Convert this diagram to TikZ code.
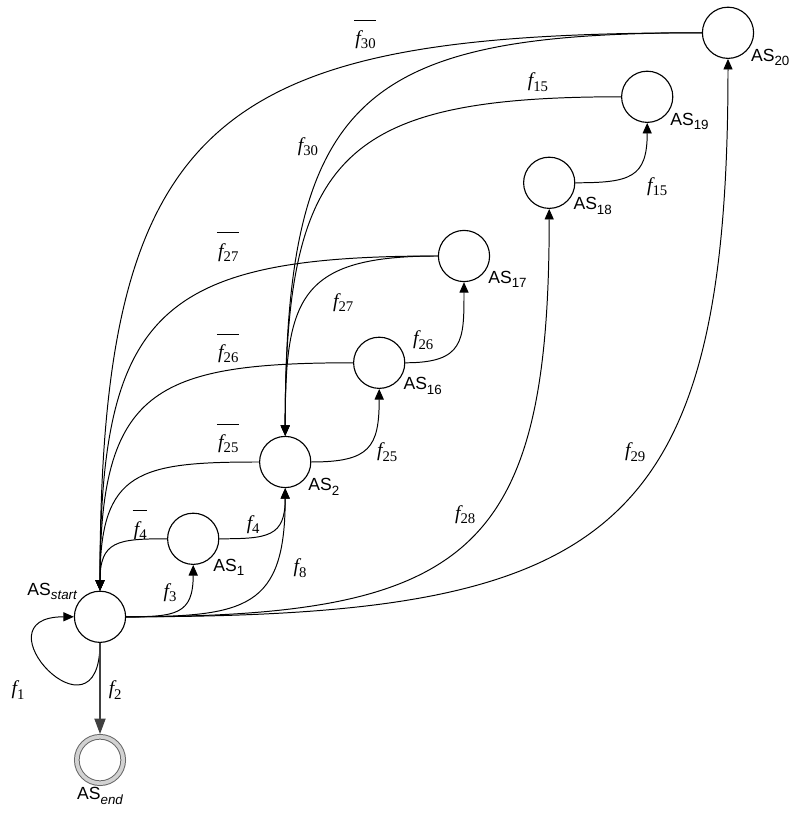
\documentclass[tikz,border=0pt]{standalone}
\usepackage{fontspec}
\setmainfont{Liberation Serif}
\setsansfont{Liberation Sans}
\usetikzlibrary{arrows.meta}

\newcommand{\fsub}[1]{{\itshape f}\raisebox{-0.5ex}{\fontsize{10.5}{11}\selectfont #1}}
\newcommand{\fbar}[1]{$\overline{\mbox{\rule{0pt}{2.5ex}\kern1pt\fsub{#1}\kern0.5pt}}$}
\newcommand{\asub}[1]{AS\raisebox{-0.45ex}{\fontsize{9.5}{10}\selectfont #1}}

\tikzset{
    state/.style={circle, draw, line width=0.8pt, fill=white, minimum size=1.28cm, inner sep=0pt},
    final/.style={circle, draw=black!60, line width=0.7pt, double=gray!35, double distance=2.6pt, fill=white, minimum size=1.16cm, inner sep=0pt, outer sep=2pt},
    lbl/.style={font=\fontsize{14}{16}\selectfont},
    aslbl/.style={font=\sffamily\fontsize{12.5}{14}\selectfont, inner sep=1pt},
    fwd/.style={out=0, in=-90, looseness=1.5},
    back/.style={out=180, in=90, looseness=1.5},
    tip/.style={line width=0.7pt, -{Triangle[length=7.5pt,width=6.5pt]}}
}

\begin{document}
\begin{tikzpicture}
    \useasboundingbox (0,0) rectangle (19.875,20.35);

    % states
    \node[state, label={[aslbl]145:\asub{\itshape start}}] (start) at (2.50,4.93) {};
    \node[final, label={[aslbl]below:\asub{\itshape end}}] (end) at (2.50,1.35) {};
    \node[state, label={[aslbl]-45:\asub{1}}] (as1) at (4.83,6.88) {};
    \node[state, label={[aslbl]-35:\asub{2}}] (as2) at (7.13,8.80) {};
    \node[state, label={[aslbl]-30:\asub{16}}] (as16) at (9.48,11.28) {};
    \node[state, label={[aslbl]-30:\asub{17}}] (as17) at (11.60,13.95) {};
    \node[state, label={[aslbl]-30:\asub{18}}] (as18) at (13.73,15.78) {};
    \node[state, label={[aslbl]-35:\asub{19}}] (as19) at (16.18,17.93) {};
    \node[state, label={[aslbl]-35:\asub{20}}] (as20) at (18.20,19.53) {};

    % self loop and exit
    \draw[tip] (start.south) .. controls +(0,-2.7) and +(-2.5,0) .. (start.west);
    \draw[line width=0.8pt, black!75, -{Triangle[length=11pt,width=8pt]}] (start.south) -- (end.north);

    % forward transitions
    \draw[tip] (start.east) to[fwd] (as1.south);
    \draw[tip] (start.east) to[fwd] (as2.south);
    \draw[tip] (as1.east) to[fwd] (as2.south);
    \draw[tip] (as2.east) to[fwd] (as16.south);
    \draw[tip] (as16.east) to[fwd] (as17.south);
    \draw[tip] (as18.east) to[fwd] (as19.south);
    \draw[tip] (start.east) to[fwd] (as18.south);
    \draw[tip] (start.east) to[fwd] (as20.south);

    % back to start
    \draw[tip] (as1.west) to[back] (start.north);
    \draw[tip] (as2.west) to[back] (start.north);
    \draw[tip] (as16.west) to[back] (start.north);
    \draw[tip] (as17.west) to[back] (start.north);
    \draw[tip] (as20.west) to[back] (start.north);

    % back to AS2
    \draw[tip] (as17.west) to[back] (as2.north);
    \draw[tip] (as19.west) to[back] (as2.north);
    \draw[tip] (as20.west) to[back] (as2.north);

    % labels
    \node[lbl] (lf1) at (0.45,3.10) {\fsub{1}};
    \node[lbl] (lf2) at (2.88,3.10) {\fsub{2}};
    \node[lbl] (lf3) at (4.25,5.53) {\fsub{3}};
    \node[lbl] (lf4) at (6.33,7.23) {\fsub{4}};
    \node[lbl] (lfb4) at (3.50,7.23) {\fbar{4}};
    \node[lbl] (lf8) at (7.50,6.15) {\fsub{8}};
    \node[lbl] (lf25) at (9.68,9.05) {\fsub{25}};
    \node[lbl] (lfb25) at (5.70,9.40) {\fbar{25}};
    \node[lbl] (lf26) at (10.58,11.85) {\fsub{26}};
    \node[lbl] (lfb26) at (5.70,11.65) {\fbar{26}};
    \node[lbl] (lf27) at (8.58,12.78) {\fsub{27}};
    \node[lbl] (lfb27) at (5.70,14.18) {\fbar{27}};
    \node[lbl] (lf28) at (11.63,7.48) {\fsub{28}};
    \node[lbl] (lf29) at (15.88,9.05) {\fsub{29}};
    \node[lbl] (lf30) at (7.70,16.68) {\fsub{30}};
    \node[lbl] (lfb30) at (9.13,19.50) {\fbar{30}};
    \node[lbl] (lf15a) at (13.45,18.30) {\fsub{15}};
    \node[lbl] (lf15b) at (16.43,15.68) {\fsub{15}};
\end{tikzpicture}
\end{document}
